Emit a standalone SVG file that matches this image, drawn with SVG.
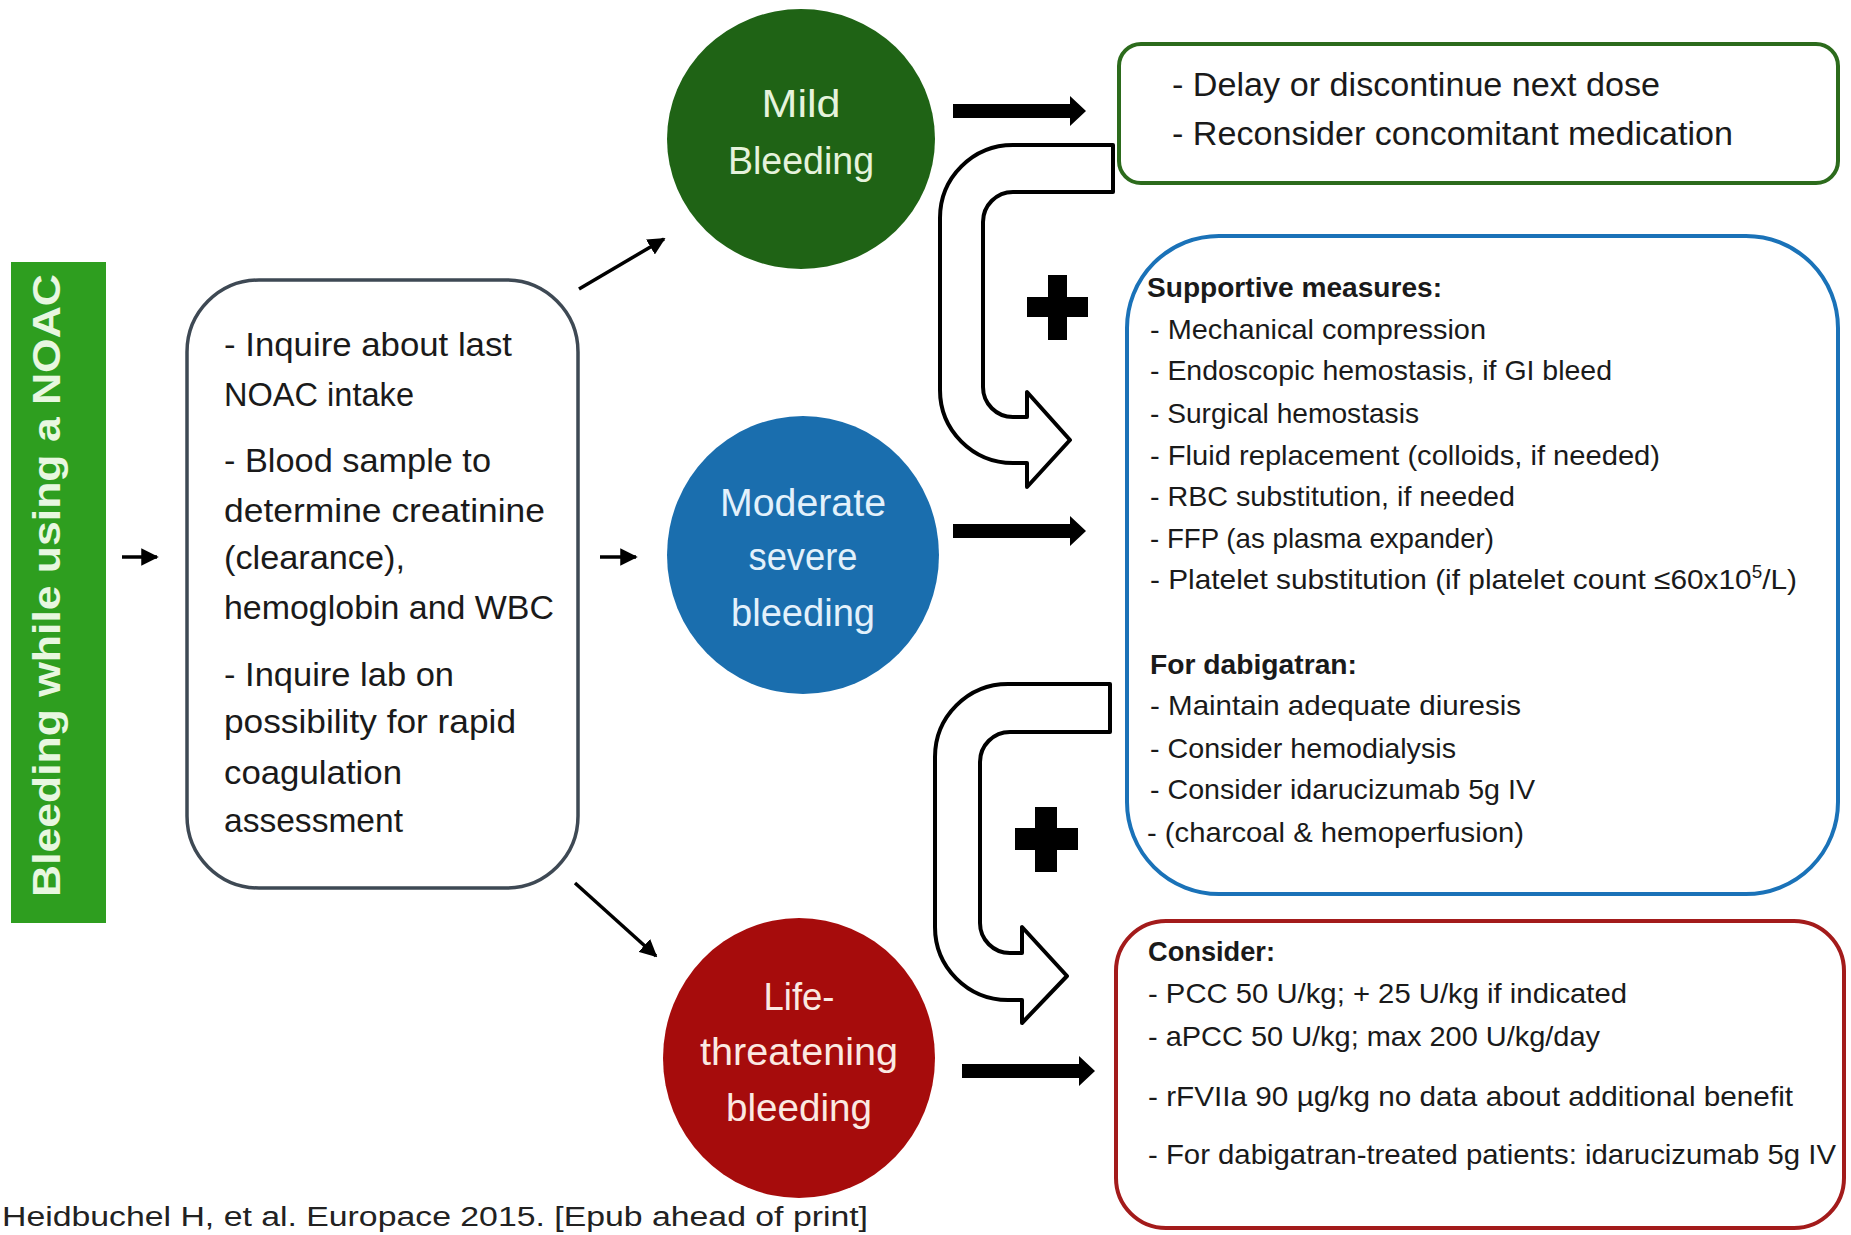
<svg xmlns="http://www.w3.org/2000/svg" width="1851" height="1235" viewBox="0 0 1851 1235">
<defs>
<style>
.t{font-family:"Liberation Sans",Arial,sans-serif;fill:#1a1a1a}
.lb{font-size:33px}
.gb{font-size:34px}
.bb{font-size:28.5px}
.b{font-weight:bold}
.ct{font-family:"Liberation Sans",Arial,sans-serif;font-size:38px;text-anchor:middle}
.thick{fill:#000}
.thin{stroke:#000;stroke-width:3.5;fill:none}
.uarrow{fill:#fff;stroke:#000;stroke-width:4;stroke-linejoin:round}
</style>
<marker id="ah" viewBox="0 0 10 10" refX="9" refY="5" markerWidth="5" markerHeight="5" orient="auto" markerUnits="strokeWidth">
<path d="M0,0 L10,5 L0,10 z" fill="#000"/>
</marker>
</defs>
<rect width="1851" height="1235" fill="#fff"/>

<g id="start">
<rect x="11" y="262" width="95" height="661" fill="#2e9e1f"/>
<text transform="translate(60,897) rotate(-90)" x="0" y="0" font-family="Liberation Sans, Arial, sans-serif" font-size="38" font-weight="bold" fill="#e8f7e0" textLength="623" lengthAdjust="spacingAndGlyphs">Bleeding while using a NOAC</text>
</g>

<g id="assess">
<rect x="187" y="280" width="391" height="608" rx="72" ry="72" fill="#fff" stroke="#3e4954" stroke-width="3.5"/>
<text class="t lb" x="224" y="356" textLength="288" lengthAdjust="spacingAndGlyphs">- Inquire about last</text>
<text class="t lb" x="224" y="406" textLength="190" lengthAdjust="spacingAndGlyphs">NOAC intake</text>
<text class="t lb" x="224" y="472" textLength="267" lengthAdjust="spacingAndGlyphs">- Blood sample to</text>
<text class="t lb" x="224" y="522" textLength="321" lengthAdjust="spacingAndGlyphs">determine creatinine</text>
<text class="t lb" x="224" y="569" textLength="181" lengthAdjust="spacingAndGlyphs">(clearance),</text>
<text class="t lb" x="224" y="619" textLength="330" lengthAdjust="spacingAndGlyphs">hemoglobin and WBC</text>
<text class="t lb" x="224" y="686" textLength="230" lengthAdjust="spacingAndGlyphs">- Inquire lab on</text>
<text class="t lb" x="224" y="733" textLength="292" lengthAdjust="spacingAndGlyphs">possibility for rapid</text>
<text class="t lb" x="224" y="784" textLength="178" lengthAdjust="spacingAndGlyphs">coagulation</text>
<text class="t lb" x="224" y="832" textLength="179" lengthAdjust="spacingAndGlyphs">assessment</text>
</g>

<g id="mild">
<ellipse cx="801" cy="139" rx="134" ry="130" fill="#1f6315"/>
<text class="ct" x="801" y="117" fill="#e6f3dc" textLength="79" lengthAdjust="spacingAndGlyphs">Mild</text>
<text class="ct" x="801" y="174" fill="#e6f3dc" textLength="146" lengthAdjust="spacingAndGlyphs">Bleeding</text>
</g>

<g id="moderate">
<ellipse cx="803" cy="555" rx="136" ry="139" fill="#1a6eae"/>
<text class="ct" x="803" y="516" fill="#e3f1fb" textLength="166" lengthAdjust="spacingAndGlyphs">Moderate</text>
<text class="ct" x="803" y="570" fill="#e3f1fb" textLength="109" lengthAdjust="spacingAndGlyphs">severe</text>
<text class="ct" x="803" y="626" fill="#e3f1fb" textLength="144" lengthAdjust="spacingAndGlyphs">bleeding</text>
</g>

<g id="life">
<ellipse cx="799" cy="1058" rx="136" ry="140" fill="#a60c0c"/>
<text class="ct" x="799" y="1010" fill="#fbe9e2" textLength="71" lengthAdjust="spacingAndGlyphs">Life-</text>
<text class="ct" x="799" y="1065" fill="#fbe9e2" textLength="198" lengthAdjust="spacingAndGlyphs">threatening</text>
<text class="ct" x="799" y="1121" fill="#fbe9e2" textLength="146" lengthAdjust="spacingAndGlyphs">bleeding</text>
</g>

<g id="mild-actions">
<rect x="1119" y="44" width="719" height="139" rx="22" ry="22" fill="#fff" stroke="#2c6b1c" stroke-width="4"/>
<text class="t gb" x="1172" y="96" textLength="488" lengthAdjust="spacingAndGlyphs">- Delay or discontinue next dose</text>
<text class="t gb" x="1172" y="145" textLength="561" lengthAdjust="spacingAndGlyphs">- Reconsider concomitant medication</text>
</g>

<g id="moderate-actions">
<rect x="1127" y="236" width="711" height="658" rx="92" ry="92" fill="#fff" stroke="#1a72b8" stroke-width="4"/>
<text class="t bb b" x="1147" y="297" textLength="295" lengthAdjust="spacingAndGlyphs">Supportive measures:</text>
<text class="t bb" x="1150" y="339" textLength="336" lengthAdjust="spacingAndGlyphs">- Mechanical compression</text>
<text class="t bb" x="1150" y="380" textLength="462" lengthAdjust="spacingAndGlyphs">- Endoscopic hemostasis, if GI bleed</text>
<text class="t bb" x="1150" y="423" textLength="269" lengthAdjust="spacingAndGlyphs">- Surgical hemostasis</text>
<text class="t bb" x="1150" y="465" textLength="510" lengthAdjust="spacingAndGlyphs">- Fluid replacement (colloids, if needed)</text>
<text class="t bb" x="1150" y="506" textLength="365" lengthAdjust="spacingAndGlyphs">- RBC substitution, if needed</text>
<text class="t bb" x="1150" y="548" textLength="344" lengthAdjust="spacingAndGlyphs">- FFP  (as plasma expander)</text>
<text class="t bb" x="1150" y="589" textLength="647" lengthAdjust="spacingAndGlyphs">- Platelet substitution (if platelet count ≤60x10<tspan font-size="18" dy="-11">5</tspan><tspan dy="11">/L)</tspan></text>
<text class="t bb b" x="1150" y="674" textLength="207" lengthAdjust="spacingAndGlyphs">For dabigatran:</text>
<text class="t bb" x="1150" y="715" textLength="371" lengthAdjust="spacingAndGlyphs">- Maintain adequate diuresis</text>
<text class="t bb" x="1150" y="758" textLength="306" lengthAdjust="spacingAndGlyphs">- Consider hemodialysis</text>
<text class="t bb" x="1150" y="799" textLength="385" lengthAdjust="spacingAndGlyphs">- Consider idarucizumab 5g IV</text>
<text class="t bb" x="1147" y="842" textLength="377" lengthAdjust="spacingAndGlyphs">- (charcoal &amp; hemoperfusion)</text>
</g>

<g id="life-actions">
<rect x="1116" y="921" width="728" height="307" rx="50" ry="50" fill="#fff" stroke="#a31b1b" stroke-width="4"/>
<text class="t bb b" x="1148" y="961" textLength="127" lengthAdjust="spacingAndGlyphs">Consider:</text>
<text class="t bb" x="1148" y="1003" textLength="479" lengthAdjust="spacingAndGlyphs">- PCC 50  U/kg; + 25 U/kg if indicated</text>
<text class="t bb" x="1148" y="1046" textLength="452" lengthAdjust="spacingAndGlyphs">- aPCC 50 U/kg; max 200 U/kg/day</text>
<text class="t bb" x="1148" y="1106" textLength="645" lengthAdjust="spacingAndGlyphs">- rFVIIa 90 µg/kg no data about additional benefit</text>
<text class="t bb" x="1148" y="1164" textLength="688" lengthAdjust="spacingAndGlyphs">- For dabigatran-treated patients: idarucizumab 5g IV</text>
</g>

<g id="connectors">
<line class="thin" x1="122" y1="557" x2="157" y2="557" stroke-width="5" marker-end="url(#ah)"/>
<line class="thin" x1="600" y1="557" x2="636" y2="557" stroke-width="5" marker-end="url(#ah)"/>
<line class="thin" x1="579" y1="289" x2="664" y2="239" marker-end="url(#ah)"/>
<line class="thin" x1="575" y1="883" x2="656" y2="956" marker-end="url(#ah)"/>
<polygon class="thick" points="953,104 1070,104 1070,96 1086,111 1070,126 1070,118 953,118"/>
<polygon class="thick" points="953,524 1070,524 1070,516 1086,531 1070,546 1070,538 953,538"/>
<polygon class="thick" points="962,1064 1079,1064 1079,1056 1095,1071 1079,1086 1079,1078 962,1078"/>
<path class="uarrow" d="M1113,145 L1013,145 A73,73 0 0 0 940,218 L940,390 A73,73 0 0 0 1013,463 L1027,463 L1027,487 L1070,440 L1027,392 L1027,417 L1013,417 A30,30 0 0 1 983,387 L983,222 A30,30 0 0 1 1013,192 L1113,192 Z"/>
<path class="uarrow" d="M1110,684 L1008,684 A73,73 0 0 0 935,757 L935,927 A73,73 0 0 0 1008,1000 L1022,1000 L1022,1023 L1067,976 L1022,927 L1022,953 L1010,953 A30,30 0 0 1 980,923 L980,762 A30,30 0 0 1 1010,732 L1110,732 Z"/>
<path d="M1048,275 h19 v22 h21 v20 h-21 v23 h-19 v-23 h-21 v-20 h21 z" fill="#000"/>
<path d="M1035,807 h22 v21 h21 v22 h-21 v22 h-22 v-22 h-20 v-22 h20 z" fill="#000"/>
</g>

<text x="2" y="1226" font-family="Liberation Sans, Arial, sans-serif" font-size="27" fill="#222" textLength="866" lengthAdjust="spacingAndGlyphs">Heidbuchel H, et al. Europace 2015. [Epub ahead of print]</text>
</svg>
